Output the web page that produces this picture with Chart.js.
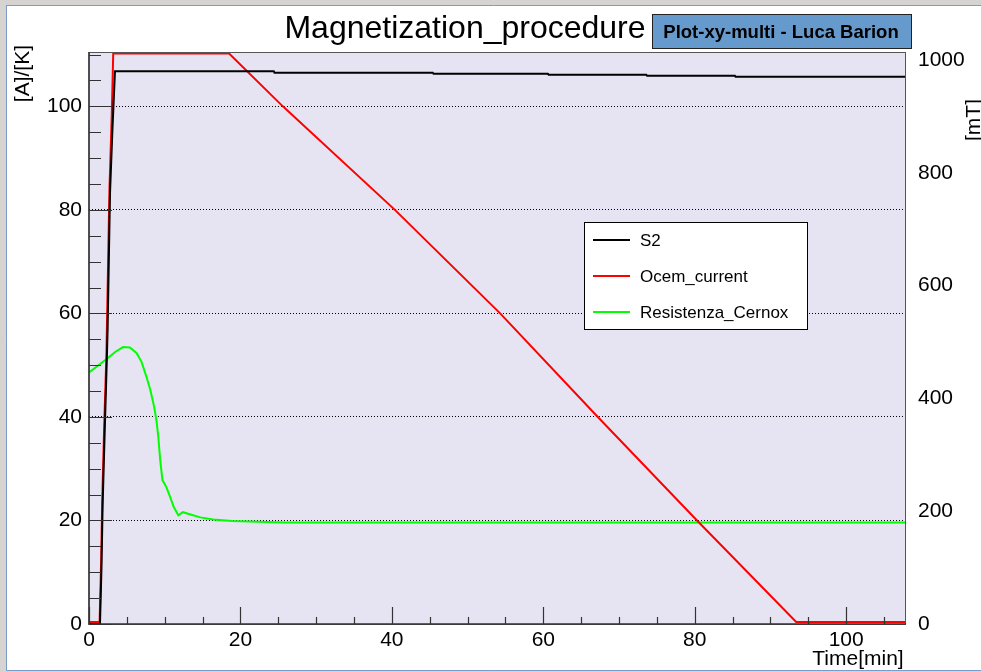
<!DOCTYPE html>
<html>
<head>
<meta charset="utf-8">
<title>Magnetization_procedure</title>
<script src="https://cdn.jsdelivr.net/npm/chart.js@4.4.1/dist/chart.umd.min.js"></script>
<style>
  html, body { margin: 0; padding: 0; background: #d6d4d0; }
  #wrap { width: 981px; height: 672px; }
</style>
</head>
<body>
<div id="wrap"><canvas id="chart" width="981" height="672"></canvas></div>
<script>
// S2 (probe) reading, left axis
const timeS2 = [0, 1.45, 1.65, 1.8, 2.05, 2.33, 2.46, 2.77, 3.08, 3.43, 24.4, 24.5, 45.4, 45.5, 60.6, 60.7, 73.6, 73.7, 85.3, 85.4, 107.9];
const valS2 = [0, 0, 11, 23, 36, 50, 57, 83, 95, 106.8, 106.8, 106.5, 106.5, 106.3, 106.3, 106.1, 106.1, 105.9, 105.9, 105.7, 105.7];

// power supply current
const timeOcem = [0, 1.4, 1.6, 1.75, 2.0, 2.3, 2.7, 3.0, 3.2, 18.5, 25.6, 40.4, 54.3, 67.2, 80.3, 93.4, 107.9];
const valOcem = [0.4, 0.4, 12, 24, 38, 52, 84, 98, 110.2, 110.2, 100, 80, 60, 40, 20, 0.4, 0.4];

// Cernox temperature
const timeCernox = [0, 2.33, 3.5, 4.5, 5.4, 6.3, 6.95, 7.6, 8.1, 8.6, 8.9, 9.15, 9.4, 9.7, 10.2, 10.7, 11.2, 11.8, 12.4, 13.3, 14.7, 16.4, 18.9, 25.9, 107.9];
const valCernox = [48.6, 51.2, 52.6, 53.5, 53.4, 52.3, 50.6, 47.7, 45.2, 42, 39.4, 36.2, 31.7, 27.8, 26.5, 24.6, 22.6, 21.0, 21.6, 21.2, 20.6, 20.2, 19.9, 19.6, 19.6];

const seriesNames = ['S2', 'Ocem_current', 'Resistenza_Cernox'];
const xTicks = [0, 20, 40, 60, 80, 100];
const yTicks = [0, 20, 40, 60, 80, 100];
const y2Ticks = [0, 200, 400, 600, 800, 1000];

const FONT = "'Liberation Sans', Arial, Helvetica, sans-serif";

function pts(xs, ys) {
  return xs.map((x, i) => ({ x: x, y: ys[i] }));
}

// ROOT-like canvas: pad, frame, ticks pointing inward, title, stats box, legend
const rootStyle = {
  id: 'rootStyle',
  beforeDraw(chart) {
    const ctx = chart.ctx;
    const a = chart.chartArea;
    ctx.save();
    ctx.fillStyle = '#d6d4d0';
    ctx.fillRect(0, 0, chart.width, chart.height);
    ctx.fillStyle = '#ffffff';
    ctx.fillRect(7, 5, chart.width - 7, 665);
    ctx.strokeStyle = '#7c9bc9';
    ctx.lineWidth = 1;
    ctx.beginPath();
    ctx.moveTo(6.5, 5);
    ctx.lineTo(6.5, 670.5);
    ctx.lineTo(chart.width, 670.5);
    ctx.moveTo(6.5, 5.5);
    ctx.lineTo(chart.width, 5.5);
    ctx.stroke();
    ctx.fillStyle = '#e6e4f2';
    ctx.fillRect(a.left, a.top, a.right - a.left, a.bottom - a.top);
    ctx.restore();
  },
  afterDraw(chart) {
    const ctx = chart.ctx;
    const a = chart.chartArea;
    const xs = chart.scales.x;
    const ys = chart.scales.y;
    ctx.save();

    // frame
    ctx.strokeStyle = '#555555';
    ctx.lineWidth = 1;
    ctx.strokeRect(a.left, a.top + 0.5, a.right - a.left - 0.5, a.bottom - a.top);
    ctx.strokeStyle = '#333333';
    ctx.lineWidth = 1.5;
    ctx.beginPath();
    ctx.moveTo(a.left, a.top);
    ctx.lineTo(a.left, a.bottom);
    ctx.lineTo(a.right, a.bottom);
    ctx.stroke();

    // y ticks (major every 20, minor every 5)
    ctx.lineWidth = 1.2;
    ctx.beginPath();
    for (let v = 0; v <= ys.max; v += 5) {
      const py = Math.round(ys.getPixelForValue(v)) + 0.5;
      const len = v % 20 === 0 ? 23 : 12;
      ctx.moveTo(a.left, py);
      ctx.lineTo(a.left + len, py);
    }
    // x ticks
    for (let v = 0; v <= xs.max; v += 5) {
      const px = Math.round(xs.getPixelForValue(v)) + 0.5;
      const len = v % 20 === 0 ? 17 : 7;
      ctx.moveTo(px, a.bottom);
      ctx.lineTo(px, a.bottom - len);
    }
    ctx.stroke();

    // title
    ctx.fillStyle = '#000';
    ctx.font = '32px ' + FONT;
    ctx.textAlign = 'center';
    ctx.textBaseline = 'alphabetic';
    ctx.fillText('Magnetization_procedure', 465, 38);

    // stats/info box
    ctx.fillStyle = '#6699cc';
    ctx.fillRect(652, 14, 259, 34);
    ctx.strokeStyle = '#222';
    ctx.lineWidth = 1;
    ctx.strokeRect(652.5, 14.5, 259, 34);
    ctx.fillStyle = '#000';
    ctx.font = 'bold 18.5px ' + FONT;
    ctx.fillText('Plot-xy-multi - Luca Barion', 781, 38);

    // legend
    ctx.fillStyle = '#fff';
    ctx.fillRect(584, 222, 223, 107);
    ctx.strokeStyle = '#000';
    ctx.strokeRect(584.5, 222.5, 223, 107);
    ctx.font = '17px ' + FONT;
    ctx.textAlign = 'left';
    ctx.textBaseline = 'middle';
    chart.data.datasets.forEach((ds, i) => {
      const ly = 240 + i * 36;
      ctx.strokeStyle = ds.borderColor;
      ctx.lineWidth = 2;
      ctx.beginPath();
      ctx.moveTo(593, ly);
      ctx.lineTo(630, ly);
      ctx.stroke();
      ctx.fillStyle = '#000';
      ctx.fillText(ds.label, 640, ly + 1);
    });

    // axis titles
    ctx.font = '21px ' + FONT;
    ctx.textBaseline = 'middle';
    ctx.textAlign = 'center';
    ctx.fillText('Time[min]', 858, 659);
    ctx.save();
    ctx.translate(23, 45);
    ctx.rotate(-Math.PI / 2);
    ctx.textAlign = 'right';
    ctx.fillText('[A]/[K]', 0, 0);
    ctx.restore();
    ctx.save();
    ctx.translate(974, 120);
    ctx.rotate(-Math.PI / 2);
    ctx.textAlign = 'center';
    ctx.fillText('[mT]', 0, 0);
    ctx.restore();

    ctx.restore();
  }
};

const tickFont = { family: FONT, size: 21 };
const plain = v => String(v);

new Chart(document.getElementById('chart'), {
  type: 'line',
  data: {
    datasets: [
      { label: seriesNames[0], data: pts(timeS2, valS2), borderColor: '#000000', borderWidth: 2, yAxisID: 'y' },
      { label: seriesNames[1], data: pts(timeOcem, valOcem), borderColor: '#ff0000', borderWidth: 2, yAxisID: 'y' },
      { label: seriesNames[2], data: pts(timeCernox, valCernox), borderColor: '#00ff00', borderWidth: 2, yAxisID: 'y' }
    ]
  },
  options: {
    responsive: false,
    animation: false,
    events: [],
    elements: { point: { radius: 0 }, line: { tension: 0 } },
    layout: { padding: { top: 52, left: 0, right: 0, bottom: 0 } },
    plugins: { legend: { display: false }, tooltip: { enabled: false }, title: { display: false } },
    scales: {
      x: {
        type: 'linear',
        min: 0,
        max: 107.9,
        afterFit(s) { s.height = 48; },
        afterBuildTicks(s) { s.ticks = xTicks.map(v => ({ value: v })); },
        ticks: { font: tickFont, color: '#000', padding: 4, maxRotation: 0, callback: plain },
        grid: { display: false, drawTicks: false },
        border: { display: false }
      },
      y: {
        type: 'linear',
        position: 'left',
        min: 0,
        max: 110.5,
        afterFit(s) { s.width = 89; },
        afterBuildTicks(s) { s.ticks = yTicks.map(v => ({ value: v })); },
        ticks: { font: tickFont, color: '#000', padding: 7, callback: plain },
        grid: { drawTicks: false, color: '#000', lineWidth: 1 },
        border: { display: false, dash: [1, 2] }
      },
      y2: {
        type: 'linear',
        position: 'right',
        min: 0,
        max: 1014,
        afterFit(s) { s.width = 75; },
        afterBuildTicks(s) { s.ticks = y2Ticks.map(v => ({ value: v })); },
        ticks: { font: tickFont, color: '#000', padding: 12, callback: plain },
        grid: { display: false, drawTicks: false },
        border: { display: false }
      }
    }
  },
  plugins: [rootStyle]
});
</script>
</body>
</html>
